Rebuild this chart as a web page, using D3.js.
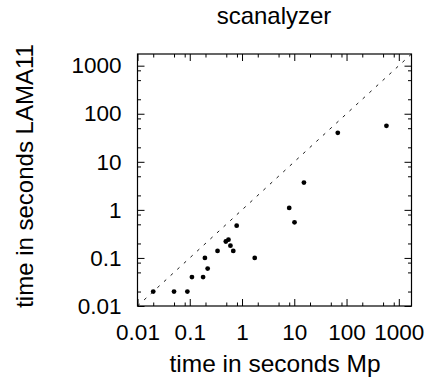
<!DOCTYPE html>
<html>
<head>
<meta charset="utf-8">
<script src="https://cdn.jsdelivr.net/npm/d3@7"></script>
<style>
  html, body { margin: 0; padding: 0; background: #fff; }
  svg { display: block; }
  text { font-family: "Liberation Sans", Arial, Helvetica, sans-serif; fill: #000; }
</style>
</head>
<body>
<svg id="chart" width="435" height="388"></svg>
<script>
// Data
const title = "scanalyzer";
const xLabel = "time in seconds Mp";
const yLabel = "time in seconds LAMA11";
const timeMp =     [0.02, 0.05, 0.09, 0.11, 0.18, 0.195, 0.22, 0.34, 0.49, 0.55, 0.6, 0.68, 0.79, 1.75, 8.0, 10.1, 15.3, 68, 580];
const timeLama11 = [0.02, 0.02, 0.02, 0.04, 0.04, 0.1,   0.06, 0.14, 0.22, 0.24, 0.18, 0.14, 0.47, 0.1, 1.1, 0.55, 3.7, 40, 56];
const majorTicks = [0.01, 0.1, 1, 10, 100, 1000];
const tickLabels = ["0.01", "0.1", "1", "10", "100", "1000"];
const minorMultipliers = [2, 5, 8];
const domainMin = 0.01, domainMax = 1750;

const svg = d3.select("#chart");
const pLeft = 137.5, pRight = 411.5, pTop = 54, pBottom = 306;

const x = d3.scaleLog().domain([domainMin, domainMax]).range([pLeft, pRight]);
const y = d3.scaleLog().domain([domainMin, domainMax]).range([pBottom, pTop]);

const minorTicks = [];
majorTicks.forEach(m => minorMultipliers.forEach(k => { const v = m * k; if (v < domainMax) minorTicks.push(v); }));

const fmt = d => { const i = majorTicks.indexOf(d); return i >= 0 ? tickLabels[i] : ""; };
const majLen = 7, minLen = 3.5;

// bottom axis (ticks inward)
const gx = svg.append("g").attr("transform", `translate(0,${pBottom})`);
gx.call(d3.axisBottom(x).tickValues(majorTicks).tickFormat(fmt).tickSizeInner(-majLen).tickSizeOuter(0).tickPadding(majLen + 11));
gx.append("g").call(d3.axisBottom(x).tickValues(minorTicks).tickFormat("").tickSizeInner(-minLen).tickSizeOuter(0));
// top mirror
const gxt = svg.append("g").attr("transform", `translate(0,${pTop})`);
gxt.call(d3.axisTop(x).tickValues(majorTicks).tickFormat("").tickSizeInner(-majLen).tickSizeOuter(0));
gxt.append("g").call(d3.axisTop(x).tickValues(minorTicks).tickFormat("").tickSizeInner(-minLen).tickSizeOuter(0));
// left axis
const gy = svg.append("g").attr("transform", `translate(${pLeft},0)`);
gy.call(d3.axisLeft(y).tickValues(majorTicks).tickFormat(fmt).tickSizeInner(-majLen).tickSizeOuter(0).tickPadding(majLen + 9));
gy.append("g").call(d3.axisLeft(y).tickValues(minorTicks).tickFormat("").tickSizeInner(-minLen).tickSizeOuter(0));
// right mirror
const gyr = svg.append("g").attr("transform", `translate(${pRight},0)`);
gyr.call(d3.axisRight(y).tickValues(majorTicks).tickFormat("").tickSizeInner(-majLen).tickSizeOuter(0));
gyr.append("g").call(d3.axisRight(y).tickValues(minorTicks).tickFormat("").tickSizeInner(-minLen).tickSizeOuter(0));

svg.selectAll(".domain").remove();
svg.selectAll(".tick line").attr("stroke", "#000").attr("stroke-width", 1);
svg.selectAll(".tick text").attr("font-size", 22.5).attr("font-family", "Liberation Sans, Arial, sans-serif").attr("fill", "#000");

// border
svg.append("rect").attr("x", pLeft).attr("y", pTop).attr("width", pRight - pLeft).attr("height", pBottom - pTop)
  .attr("fill", "none").attr("stroke", "#000").attr("stroke-width", 1.2);

// clip
svg.append("clipPath").attr("id", "clip").append("rect")
  .attr("x", pLeft).attr("y", pTop).attr("width", pRight - pLeft).attr("height", pBottom - pTop);

// diagonal y = x
svg.append("line").attr("clip-path", "url(#clip)")
  .attr("x1", x(domainMin)).attr("y1", y(domainMin)).attr("x2", x(domainMax)).attr("y2", y(domainMax))
  .attr("stroke", "#000").attr("stroke-width", 0.9).attr("stroke-dasharray", "3,6");

// points
svg.append("g").selectAll("circle").data(timeMp).join("circle")
  .attr("cx", d => x(d)).attr("cy", (d, i) => y(timeLama11[i])).attr("r", 2.4).attr("fill", "#000");

// title and labels
svg.append("text").attr("x", 274).attr("y", 24).attr("text-anchor", "middle").attr("font-size", 24).text(title);
svg.append("text").attr("x", 275).attr("y", 372).attr("text-anchor", "middle").attr("font-size", 24.5).text(xLabel);
svg.append("text").attr("transform", "translate(33,176) rotate(-90)").attr("text-anchor", "middle").attr("font-size", 24).text(yLabel);
</script>
</body>
</html>
